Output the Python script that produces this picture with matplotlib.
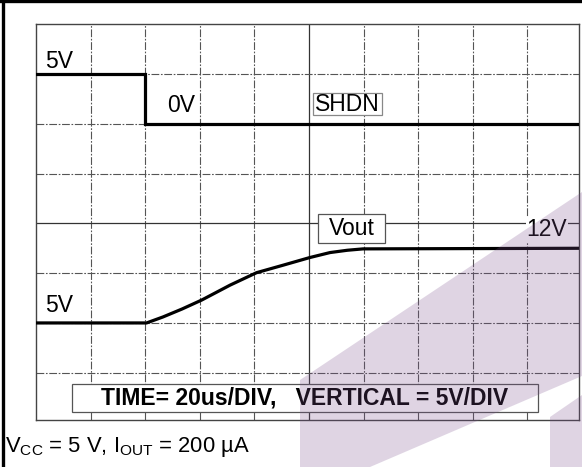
import matplotlib
matplotlib.use("Agg")
import matplotlib.pyplot as plt
from matplotlib.patches import Polygon, Rectangle
from matplotlib.lines import Line2D

plt.rcParams['font.family'] = ['Liberation Sans', 'DejaVu Sans']
plt.rcParams['mathtext.fontset'] = 'custom'
plt.rcParams['mathtext.rm'] = 'Liberation Sans'
plt.rcParams['mathtext.it'] = 'Liberation Sans'

# ---- data (time in us, voltage in V) ----
shdn_t = [0, 40, 40, 199]
shdn_v = [5, 5, 0, 0]
vout_t = [0, 40.5, 46.5, 53.5, 60.7, 71.1, 80.8, 90.5, 100.3, 107.7, 114.0, 119.8, 199]
vout_v = [5, 5, 5.6, 6.4, 7.3, 8.8, 10.05, 10.8, 11.57, 12.07, 12.3, 12.44, 12.5]
shdn_zero_div = 6      # screen division of SHDN 0 V
vout_zero_div = 1      # screen division of Vout 0 V
volts_per_div = 5
us_per_div = 20
n_xdiv = 10
n_ydiv = 8

W, H = 582, 467
fig = plt.figure(figsize=(W / 100, H / 100), dpi=100)
ax = fig.add_axes([36 / W, 1 - 420 / H, (579 - 36) / W, (420 - 24.3) / H])
ax.set_xlim(0, 9.945 * us_per_div)
ax.set_ylim(0.05, n_ydiv)
ax.set_xticks([])
ax.set_yticks([])
for s in ax.spines.values():
    s.set_color('#444444')
    s.set_linewidth(1.0)

gcol = '#555555'
for i in range(1, n_xdiv):
    x = i * us_per_div
    if i == 5:
        ax.axvline(x, color='#333333', lw=0.9, zorder=1)
    else:
        ax.axvline(x, color=gcol, lw=0.8, ls=(0, (7, 1.5, 1.5, 1.5)), zorder=1)
for j in range(1, n_ydiv):
    if j == 4:
        ax.axhline(j, color='#333333', lw=0.9, zorder=1)
    else:
        ax.axhline(j, color=gcol, lw=0.8, ls=(0, (7, 1.5, 1.5, 1.5)), zorder=1)

sy = [shdn_zero_div + v / volts_per_div for v in shdn_v]
vy = [vout_zero_div + v / volts_per_div for v in vout_v]
ax.plot(shdn_t, sy, color='black', lw=2.3, zorder=3, solid_joinstyle='miter')
ax.plot(vout_t, vy, color='black', lw=2.3, zorder=3)


def px(x, y):
    return (x / W, 1 - y / H)


def box(x0, y0, x1, y1, ec):
    r = Rectangle(px(x0, y1), (x1 - x0) / W, (y1 - y0) / H, transform=fig.transFigure,
                  fc='white', ec=ec, lw=0.9, zorder=5, clip_on=False)
    ax.add_patch(r)


fs = 16.5
ax.text(3.3, 7.02, '5V', fontsize=fs, ha='left', va='bottom', zorder=6)
ax.text(48, 6.14, '0V', fontsize=fs, ha='left', va='bottom', zorder=6)

box(313, 93, 382, 115, '#888888')
ax.text(*px(347.5, 104.5), 'SHDN', fontsize=fs, ha='center', va='center',
        transform=fig.transFigure, zorder=6)

box(318, 214, 385, 243, '#555555')
ax.text(*px(351.5, 229), 'Vout', fontsize=fs, ha='center', va='center',
        transform=fig.transFigure, zorder=6)

ax.text(*px(547, 229.5), '12V', fontsize=fs, ha='center', va='center',
        transform=fig.transFigure, zorder=6,
        bbox=dict(boxstyle='square,pad=0.05', fc='white', ec='none'))
ax.text(3.3, 2.12, '5V', fontsize=fs, ha='left', va='bottom', zorder=6)

box(72, 384, 538, 412, '#555555')
ax.text(*px(305, 398.5), 'TIME= 20us/DIV,   VERTICAL = 5V/DIV', fontsize=fs,
        fontweight='bold', ha='center', va='center', transform=fig.transFigure, zorder=6)

fig.text(5 / W, 1 - 447 / H,
         r'$\mathrm{V_{CC}}$ = 5 V, $\mathrm{I_{OUT}}$ = 200 µA',
         fontsize=15.8, ha='left', va='center')

# outer frame (left and top)
fig.add_artist(Line2D([3 / W, 3 / W], [0, 1], color='black', lw=2.4,
                      transform=fig.transFigure))
fig.add_artist(Line2D([0, 1], [1 - 1 / H, 1 - 1 / H], color='black', lw=2.4,
                      transform=fig.transFigure))

# watermark
def fpoly(pts):
    return Polygon([px(x, y) for x, y in pts], closed=True,
                   transform=fig.transFigure, fc='#7a4f8c', ec='none',
                   alpha=0.24, zorder=10)

fig.add_artist(fpoly([(300, 467), (300, 380), (582, 192), (582, 376), (370, 467)]))
fig.add_artist(fpoly([(550, 467), (550, 417), (582, 395), (582, 467)]))

fig.savefig('out.png', dpi=100)
